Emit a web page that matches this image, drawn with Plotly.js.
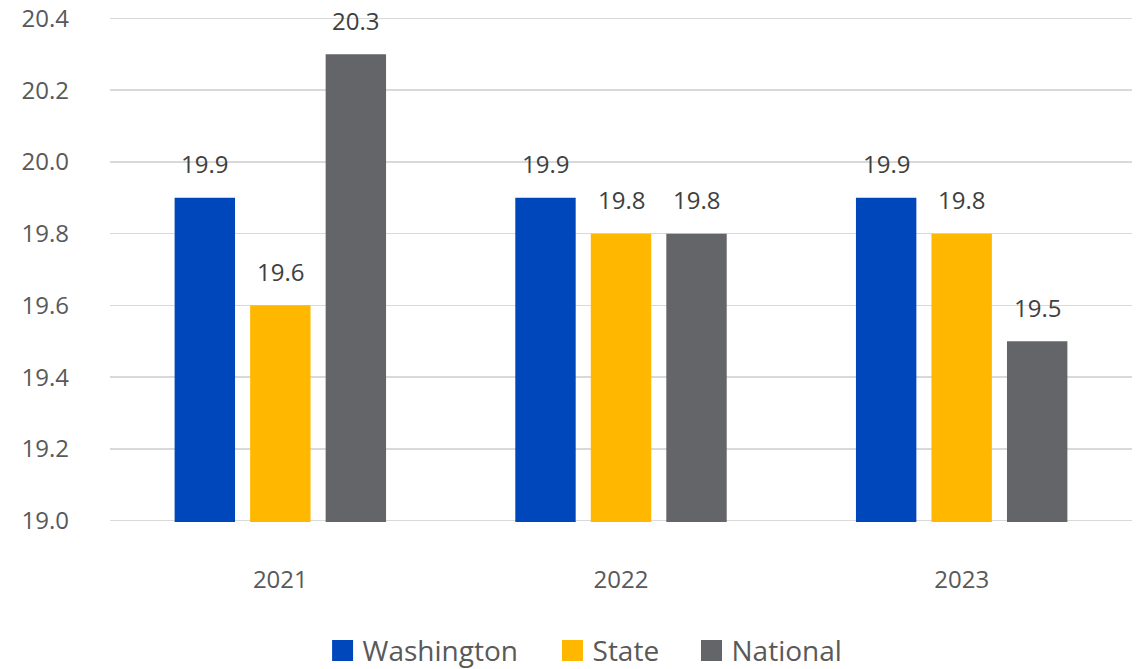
<!DOCTYPE html>
<html>
<head>
<meta charset="utf-8">
<script src="https://cdn.plot.ly/plotly-3.0.1.min.js"></script>
<style>html,body{margin:0;padding:0;background:#fff;}#chart{width:1138px;height:669px;}</style>
</head>
<body>
<div id="chart"></div>
<script>
var years = ['2021', '2022', '2023'];
var seriesNames = ['Washington', 'State', 'National'];
var washington = [19.9, 19.9, 19.9];
var state = [19.6, 19.8, 19.8];
var national = [20.3, 19.8, 19.5];
var colors = ['#0047BB', '#FFB700', '#646569'];
var yTicks = [19.0, 19.2, 19.4, 19.6, 19.8, 20.0, 20.2, 20.4];

var values = [washington, state, national];
var FONT = '"Open Sans", "Noto Sans", sans-serif';
var TXT = '#595959';
var legendIds = ['legend', 'legend2', 'legend3'];
var legendX = [0.208, 0.433, 0.569];

var traces = [];
values.forEach(function (v, i) {
  traces.push({
    type: 'bar', name: seriesNames[i], x: years, y: v,
    marker: {color: colors[i]}, showlegend: false, hoverinfo: 'x+y'
  });
});
// legend entries with larger square swatches
values.forEach(function (v, i) {
  traces.push({
    type: 'scatter', mode: 'markers', name: seriesNames[i], x: [null], y: [null],
    legend: legendIds[i],
    marker: {symbol: 'square', size: 16, color: colors[i], line: {color: colors[i], width: 5}},
    showlegend: true, hoverinfo: 'skip'
  });
});

var annotations = [];
values.forEach(function (v, i) {
  v.forEach(function (val, j) {
    annotations.push({
      x: j, y: val, xref: 'x', yref: 'y',
      text: val.toFixed(1), showarrow: false,
      xshift: (i - 1) * 75.5, yshift: 34, yanchor: 'middle',
      font: {family: FONT, size: 24, color: '#404040'}
    });
  });
});

var layout = {
  width: 1138, height: 669,
  margin: {l: 110, r: 6, t: 17, b: 147, autoexpand: false},
  paper_bgcolor: '#fff', plot_bgcolor: '#fff',
  barmode: 'group', bargap: 0.335, bargroupgap: 0.2,
  font: {family: FONT, color: TXT, size: 24},
  xaxis: {
    type: 'category', categoryorder: 'array', categoryarray: years,
    range: [-0.5, 2.5], autorange: false,
    showgrid: false, showline: false, zeroline: false,
    ticks: '', ticklabelstandoff: 41,
    tickfont: {family: FONT, size: 24, color: TXT}
  },
  yaxis: {
    range: [18.996, 20.404], autorange: false, tickvals: yTicks,
    ticktext: yTicks.map(function (t) { return t.toFixed(1); }),
    showgrid: true, gridcolor: '#d9d9d9', gridwidth: 1.5,
    zeroline: false, showline: false, ticks: '',
    ticklabelstandoff: 40, ticklabeloverflow: 'allow',
    tickfont: {family: FONT, size: 24, color: TXT}
  },
  showlegend: true,
  annotations: annotations
};
legendIds.forEach(function (id, i) {
  layout[id] = {
    orientation: 'h', x: legendX[i], xanchor: 'left', y: -0.255, yanchor: 'middle',
    font: {family: FONT, size: 28, color: TXT}, itemwidth: 30,
    bgcolor: 'rgba(0,0,0,0)'
  };
});

Plotly.newPlot('chart', traces, layout, {displayModeBar: false, staticPlot: true});
</script>
</body>
</html>
